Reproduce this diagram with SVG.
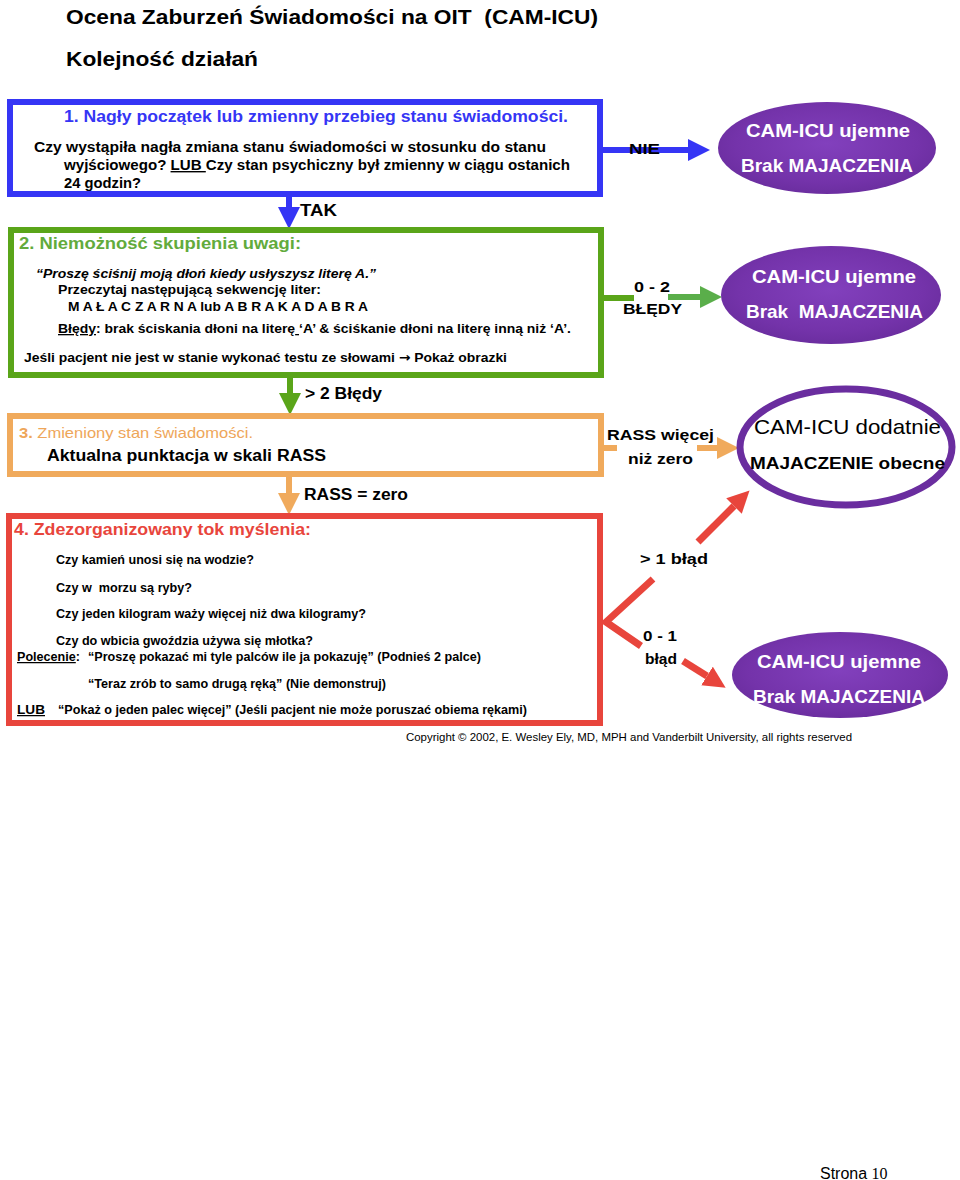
<svg xmlns="http://www.w3.org/2000/svg" width="960" height="1180" viewBox="0 0 960 1180">
<style>
.t{font-family:"Liberation Sans",Arial,"DejaVu Sans",sans-serif;font-weight:bold;fill:#000}
.n{font-weight:normal}
.it{font-style:italic}
.u{text-decoration:underline}
.ov{fill:#fff;font-size:19px}
.box{fill:#fff;stroke-width:6}
</style>
<defs>
<radialGradient id="pg" cx="50%" cy="45%" r="60%">
<stop offset="0" stop-color="#8240bd"/>
<stop offset="0.7" stop-color="#7433aa"/>
<stop offset="1" stop-color="#682c9c"/>
</radialGradient>
<marker id="hBlue" markerUnits="userSpaceOnUse" markerWidth="22" markerHeight="22" viewBox="0 0 20 20" refX="0" refY="10" orient="auto"><path d="M0,0 L20,10 L0,20 z" fill="#3535f5"/></marker>
<marker id="hGreen" markerUnits="userSpaceOnUse" markerWidth="22" markerHeight="22" viewBox="0 0 20 20" refX="0" refY="10" orient="auto"><path d="M0,0 L20,10 L0,20 z" fill="#5aa519"/></marker>
<marker id="hGreen2" markerUnits="userSpaceOnUse" markerWidth="22" markerHeight="22" viewBox="0 0 20 20" refX="0" refY="10" orient="auto"><path d="M0,0 L20,10 L0,20 z" fill="#5aae4a"/></marker>
<marker id="hOrange" markerUnits="userSpaceOnUse" markerWidth="22" markerHeight="22" viewBox="0 0 20 20" refX="0" refY="10" orient="auto"><path d="M0,0 L20,10 L0,20 z" fill="#f0aa5c"/></marker>
<marker id="hRed" markerUnits="userSpaceOnUse" markerWidth="22" markerHeight="22" viewBox="0 0 20 20" refX="0" refY="10" orient="auto"><path d="M0,0 L20,10 L0,20 z" fill="#e8453c"/></marker>
</defs>
<rect width="960" height="1180" fill="#fff"/>

<g id="header">
<text class="t" x="66" y="24" font-size="20" xml:space="preserve" textLength="532" lengthAdjust="spacingAndGlyphs">Ocena Zaburzeń Świadomości na OIT  (CAM-ICU)</text>
<text class="t" x="66" y="66" font-size="20" textLength="192" lengthAdjust="spacingAndGlyphs">Kolejność działań</text>
</g>

<g id="connectors">
<line x1="603" y1="150" x2="688" y2="150" stroke="#3535f5" stroke-width="6" marker-end="url(#hBlue)"/>
<line x1="289" y1="196" x2="289" y2="207" stroke="#3535f5" stroke-width="6" marker-end="url(#hBlue)"/>
<line x1="603" y1="298" x2="634" y2="298" stroke="#5aa519" stroke-width="6"/>
<line x1="668" y1="297" x2="700" y2="297" stroke="#5aae4a" stroke-width="6" marker-end="url(#hGreen2)"/>
<line x1="290" y1="378" x2="290" y2="393" stroke="#5aa519" stroke-width="6" marker-end="url(#hGreen)"/>
<line x1="603" y1="448" x2="617" y2="448" stroke="#f0aa5c" stroke-width="6"/>
<line x1="697" y1="448" x2="717" y2="448" stroke="#f0aa5c" stroke-width="6" marker-end="url(#hOrange)"/>
<line x1="289" y1="477" x2="289" y2="493" stroke="#f0aa5c" stroke-width="6" marker-end="url(#hOrange)"/>
<polyline points="653,579 606,622 641,646" fill="none" stroke="#e8453c" stroke-width="7" stroke-linejoin="miter"/>
<line x1="698" y1="542" x2="734" y2="506" stroke="#e8453c" stroke-width="7" marker-end="url(#hRed)"/>
<line x1="683" y1="661" x2="707" y2="676" stroke="#e8453c" stroke-width="7" marker-end="url(#hRed)"/>
<text class="t" x="629" y="154" font-size="15" textLength="31" lengthAdjust="spacingAndGlyphs">NIE</text>
<text class="t" x="300" y="216" font-size="16" textLength="37" lengthAdjust="spacingAndGlyphs">TAK</text>
<text class="t" x="634" y="292" font-size="15" textLength="36" lengthAdjust="spacingAndGlyphs">0 - 2</text>
<text class="t" x="623" y="314" font-size="15" textLength="59" lengthAdjust="spacingAndGlyphs">BŁĘDY</text>
<text class="t" x="305" y="399" font-size="16" textLength="77" lengthAdjust="spacingAndGlyphs">&gt; 2 Błędy</text>
<text class="t" x="607" y="440" font-size="15" textLength="107" lengthAdjust="spacingAndGlyphs">RASS więcej</text>
<text class="t" x="628" y="464" font-size="15" textLength="65" lengthAdjust="spacingAndGlyphs">niż zero</text>
<text class="t" x="304" y="500" font-size="16" textLength="104" lengthAdjust="spacingAndGlyphs">RASS = zero</text>
<text class="t" x="640" y="564" font-size="15" textLength="68" lengthAdjust="spacingAndGlyphs">&gt; 1 błąd</text>
<text class="t" x="643" y="641" font-size="15" textLength="34" lengthAdjust="spacingAndGlyphs">0 - 1</text>
<text class="t" x="645" y="664" font-size="15" textLength="32" lengthAdjust="spacingAndGlyphs">błąd</text>
</g>

<g id="box1">
<rect class="box" x="10" y="102" width="590" height="92" stroke="#3535f5"/>
<text class="t" x="64" y="122" font-size="16" style="fill:#3535f5" textLength="504" lengthAdjust="spacingAndGlyphs">1. Nagły początek lub zmienny przebieg stanu świadomości.</text>
<text class="t" x="34" y="152" font-size="14" textLength="512" lengthAdjust="spacingAndGlyphs">Czy wystąpiła nagła zmiana stanu świadomości w stosunku do stanu</text>
<text class="t" x="64" y="170" font-size="14" textLength="506" lengthAdjust="spacingAndGlyphs">wyjściowego? <tspan class="u">LUB </tspan>Czy stan psychiczny był zmienny w ciągu ostanich</text>
<text class="t" x="64" y="188" font-size="14" textLength="77" lengthAdjust="spacingAndGlyphs">24 godzin?</text>
</g>

<g id="box2">
<rect class="box" x="11" y="230" width="590" height="145" stroke="#5aa519"/>
<text class="t" x="19" y="249" font-size="16" style="fill:#62ab3c" textLength="282" lengthAdjust="spacingAndGlyphs">2. Niemożność skupienia uwagi:</text>
<text class="t it" x="36" y="278" font-size="13" textLength="340" lengthAdjust="spacingAndGlyphs">“Proszę ściśnij moją dłoń kiedy usłyszysz literę A.”</text>
<text class="t" x="58" y="294" font-size="13" textLength="263" lengthAdjust="spacingAndGlyphs">Przeczytaj następującą sekwencję liter:</text>
<text class="t" x="68" y="311" font-size="13" textLength="300" lengthAdjust="spacingAndGlyphs">M A Ł A C Z A R N A lub A B R A K A D A B R A</text>
<text class="t" x="58" y="333" font-size="13" textLength="513" lengthAdjust="spacingAndGlyphs"><tspan class="u">Błędy</tspan>: brak ściskania dłoni na literę<tspan class="u"> </tspan>‘A’ &amp; ściśkanie dłoni na literę inną niż ‘A’.</text>
<text class="t" x="24" y="362" font-size="13" textLength="483" lengthAdjust="spacingAndGlyphs">Jeśli pacjent nie jest w stanie wykonać testu ze słowami <tspan font-family="'DejaVu Sans',sans-serif">→</tspan> Pokaż obrazki</text>
</g>

<g id="box3">
<rect class="box" x="10" y="416" width="591" height="58" stroke="#f0aa5c"/>
<text class="t n" x="19" y="438" font-size="15" style="fill:#eea65a" textLength="234" lengthAdjust="spacingAndGlyphs"><tspan font-weight="bold">3.</tspan> Zmieniony stan świadomości.</text>
<text class="t" x="47" y="461" font-size="16" textLength="279" lengthAdjust="spacingAndGlyphs">Aktualna punktacja w skali RASS</text>
</g>

<g id="box4">
<rect class="box" x="9" y="516" width="591" height="207" stroke="#e8453c"/>
<text class="t" x="14" y="535" font-size="17" style="fill:#e8453c" textLength="297" lengthAdjust="spacingAndGlyphs">4. Zdezorganizowany tok myślenia:</text>
<text class="t" x="56" y="564" font-size="12.5" textLength="198" lengthAdjust="spacingAndGlyphs">Czy kamień unosi się na wodzie?</text>
<text class="t" x="56" y="592" font-size="12.5" xml:space="preserve" textLength="136" lengthAdjust="spacingAndGlyphs">Czy w  morzu są ryby?</text>
<text class="t" x="56" y="618" font-size="12.5" textLength="310" lengthAdjust="spacingAndGlyphs">Czy jeden kilogram waży więcej niż dwa kilogramy?</text>
<text class="t" x="56" y="645" font-size="12.5" textLength="257" lengthAdjust="spacingAndGlyphs">Czy do wbicia gwoździa używa się młotka?</text>
<text class="t" x="17" y="661" font-size="12.5" textLength="63" lengthAdjust="spacingAndGlyphs"><tspan class="u">Polecenie</tspan>:</text>
<text class="t" x="88" y="661" font-size="12.5" textLength="393" lengthAdjust="spacingAndGlyphs">“Proszę pokazać mi tyle palców ile ja pokazuję” (Podnieś 2 palce)</text>
<text class="t" x="88" y="688" font-size="12.5" textLength="298" lengthAdjust="spacingAndGlyphs">“Teraz zrób to samo drugą ręką” (Nie demonstruj)</text>
<text class="t u" x="17" y="714" font-size="12.5" textLength="28" lengthAdjust="spacingAndGlyphs">LUB</text>
<text class="t" x="58" y="714" font-size="12.5" textLength="469" lengthAdjust="spacingAndGlyphs">“Pokaż o jeden palec więcej” (Jeśli pacjent nie może poruszać obiema rękami)</text>
</g>

<g id="oval1">
<ellipse cx="827" cy="148" rx="109" ry="46" fill="url(#pg)"/>
<text class="t ov" x="746" y="137" textLength="164" lengthAdjust="spacingAndGlyphs">CAM-ICU ujemne</text>
<text class="t ov" x="741" y="172" textLength="172" lengthAdjust="spacingAndGlyphs">Brak MAJACZENIA</text>
</g>

<g id="oval2">
<ellipse cx="831" cy="295" rx="110" ry="49" fill="url(#pg)"/>
<text class="t ov" x="752" y="283" textLength="164" lengthAdjust="spacingAndGlyphs">CAM-ICU ujemne</text>
<text class="t ov" x="746" y="318" xml:space="preserve" textLength="177" lengthAdjust="spacingAndGlyphs">Brak  MAJACZENIA</text>
</g>

<g id="oval3">
<ellipse cx="846" cy="447" rx="106" ry="58" fill="#fff" stroke="#6a2d9f" stroke-width="7"/>
<text class="t n" x="754" y="434" font-size="21" textLength="187" lengthAdjust="spacingAndGlyphs">CAM-ICU dodatnie</text>
<text class="t" x="750" y="469" font-size="17" textLength="195" lengthAdjust="spacingAndGlyphs">MAJACZENIE obecne</text>
</g>

<g id="oval4">
<ellipse cx="840" cy="675" rx="108" ry="43" fill="url(#pg)"/>
<text class="t ov" x="757" y="668" textLength="164" lengthAdjust="spacingAndGlyphs">CAM-ICU ujemne</text>
<text class="t ov" x="753" y="703" textLength="172" lengthAdjust="spacingAndGlyphs">Brak MAJACZENIA</text>
</g>

<g id="footer">
<text class="t n" x="406" y="741" font-size="11.5" textLength="446" lengthAdjust="spacingAndGlyphs">Copyright © 2002, E. Wesley Ely, MD, MPH and Vanderbilt University, all rights reserved</text>
<text class="t n" x="820" y="1179" font-size="16">Strona <tspan font-family="'Liberation Serif','Times New Roman',serif">10</tspan></text>
</g>
</svg>
